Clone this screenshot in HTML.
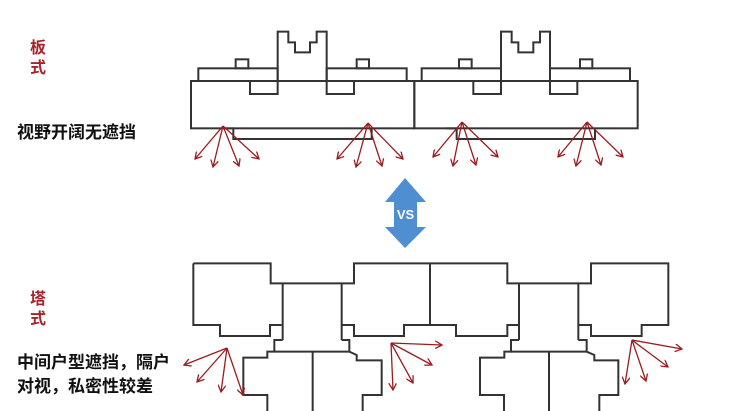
<!DOCTYPE html>
<html><head><meta charset="utf-8"><style>
html,body{margin:0;padding:0;background:#fff;width:736px;height:411px;overflow:hidden;position:relative}
.t{position:absolute;font-family:"Liberation Sans","Noto Sans CJK SC",sans-serif;font-weight:bold;white-space:nowrap}
.r{color:#a3262a;font-size:16px;line-height:20px}
.b{color:#111;}
</style></head><body>
<div class="t r" style="left:30px;top:39px">板<br>式</div>
<div class="t b" style="left:17px;top:118px;font-size:17px">视野开阔无遮挡</div>
<div class="t r" style="left:30px;top:290px">塔<br>式</div>
<div class="t b" style="left:17px;top:351px;font-size:17px;line-height:24px">中间户型遮挡，隔户<br>对视，私密性较差</div>
<svg width="736" height="411" style="position:absolute;left:0;top:0">
<defs>
<marker id="ah" markerWidth="8" markerHeight="8" refX="7" refY="4" orient="auto" markerUnits="userSpaceOnUse"><path d="M0,0 L7,4 L0,8" fill="none" stroke="#9b1c1f" stroke-width="1.3"/></marker>
</defs>
<g transform="translate(180,20) scale(0.33333)" fill="none" stroke="#333" stroke-width="6">
<g id="u">
<rect x="33" y="183" width="670" height="142"/>
<rect x="55" y="145" width="238" height="38"/>
<rect x="440" y="145" width="240" height="38"/>
<rect x="167" y="118" width="38" height="27"/>
<rect x="530" y="118" width="37" height="27"/>
<polyline points="293,183 293,35 325,35 325,67 345,67 345,97 390,97 390,67 410,67 410,35 440,35 440,183"/>
<rect x="210" y="183" width="83" height="39"/>
<rect x="440" y="183" width="82" height="39"/>
<polyline points="130,325 160,325 160,357 575,357 575,325"/>
</g>
<use href="#u" transform="translate(670,0)"/>
</g>
<g transform="translate(180,255) scale(0.33333)" fill="none" stroke="#333" stroke-width="6">
<polyline points="40,25 272,25 272,85 522,85 522,25 982,25 982,85 1233,85 1233,25 1465,25 1465,210 1385,210 1385,243 1233,243 1233,210 1197,210"/>
<polyline points="40,25 40,210 120,210 120,243 270,243 270,210 305,210"/>
<line x1="308" y1="85" x2="308" y2="255"/>
<polyline points="308,255 283,255 283,290 262,290 262,308 190,308 190,420 262,420 262,470"/>
<line x1="283" y1="290" x2="508" y2="290"/>
<line x1="485" y1="85" x2="485" y2="255"/>
<polyline points="485,210 522,210 522,243 672,243 672,210 828,210 828,243 982,243 982,210 1017,210"/>
<line x1="750" y1="25" x2="750" y2="210"/>
<polyline points="485,255 508,255 508,290 530,300 530,316 605,316 605,420 548,420 548,470"/>
<line x1="398" y1="290" x2="398" y2="470"/>
<line x1="1017" y1="85" x2="1017" y2="255"/>
<polyline points="1017,255 993,255 993,290 973,290 973,308 900,308 900,420 972,420 972,470"/>
<line x1="993" y1="290" x2="1220" y2="290"/>
<line x1="1195" y1="85" x2="1195" y2="255"/>
<polyline points="1195,255 1220,255 1220,290 1243,300 1243,316 1315,316 1315,420 1258,420 1258,470"/>
<line x1="1107" y1="290" x2="1107" y2="470"/>
</g>
<g stroke="#9b1c1f" stroke-width="1.3" marker-end="url(#ah)">
<line x1="223" y1="126" x2="195" y2="159"/><line x1="223" y1="126" x2="213" y2="167"/><line x1="223" y1="126" x2="239" y2="166"/><line x1="223" y1="126" x2="259" y2="159"/>
<line x1="368" y1="123" x2="337" y2="159"/><line x1="368" y1="123" x2="356" y2="167"/><line x1="368" y1="123" x2="382" y2="166"/><line x1="368" y1="123" x2="403" y2="159"/>
<line x1="462" y1="122" x2="433" y2="157"/><line x1="462" y1="122" x2="453" y2="166"/><line x1="462" y1="122" x2="476" y2="165"/><line x1="462" y1="122" x2="498" y2="157"/>
<line x1="587" y1="122" x2="558" y2="157"/><line x1="587" y1="122" x2="576" y2="166"/><line x1="587" y1="122" x2="601" y2="165"/><line x1="587" y1="122" x2="623" y2="157"/>
<line x1="227" y1="348" x2="184" y2="365"/><line x1="227" y1="348" x2="197" y2="382"/><line x1="227" y1="348" x2="221" y2="392"/><line x1="227" y1="348" x2="243" y2="395"/>
<line x1="391" y1="343" x2="442" y2="345"/><line x1="391" y1="343" x2="432" y2="365"/><line x1="391" y1="343" x2="413" y2="383"/><line x1="391" y1="343" x2="393" y2="390"/>
<line x1="632" y1="340" x2="682" y2="349"/><line x1="632" y1="340" x2="668" y2="367"/><line x1="632" y1="340" x2="646" y2="381"/><line x1="632" y1="340" x2="625" y2="384"/>
</g>
<polygon points="405,178 426,202 417,202 417,227 426,227 405,248 385,227 394,227 394,202 385,202" fill="#4f8fd1"/>
<text x="405.5" y="219" font-family="Liberation Sans,sans-serif" font-weight="bold" font-size="13" fill="#fff" text-anchor="middle">VS</text>
</svg>
</body></html>
